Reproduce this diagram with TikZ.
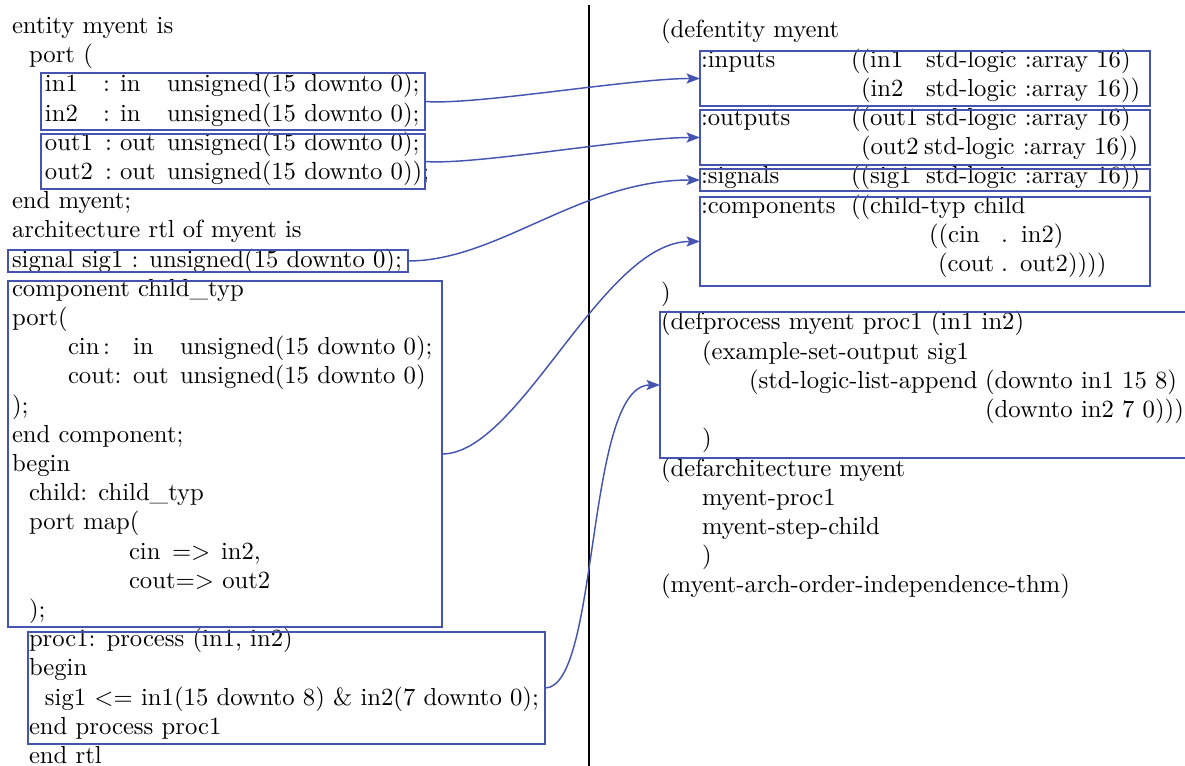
\documentclass[tikz,border=0pt]{standalone}
\usetikzlibrary{arrows.meta,fit}
\definecolor{linkblue}{RGB}{68,84,176}
\begin{document}
\begin{tikzpicture}[x=0.4132pt,y=-0.4132pt,
  txt/.style={anchor=base west,inner sep=0pt,outer sep=0pt,font=\fontsize{10.2}{12}\selectfont},
  codebox/.style={draw=linkblue,line width=0.6pt,inner sep=0pt,outer sep=0pt},
  link/.style={draw=linkblue,line width=0.6pt,-{Stealth[length=5.6pt,width=4.2pt,inset=1.2pt]}},
  divider/.style={line width=1.15pt,black}]
\clip (0,0) rectangle (1185,766);

% ---------- VHDL source (left column) ----------
\node[txt] (l0) at (12,33.5) {entity myent is};
\node[txt] (l1) at (29,62.7) {port (};
\node[txt] (l2a) at (45,91.9) {in1};
\node[txt] (l2b) at (103,91.9) {:};
\node[txt] (l2c) at (120,91.9) {in};
\node[txt] (l2d) at (167,91.9) {unsigned(15 downto 0);};
\node[txt] (l3a) at (45,121.1) {in2};
\node[txt] (l3b) at (103,121.1) {:};
\node[txt] (l3c) at (120,121.1) {in};
\node[txt] (l3d) at (167,121.1) {unsigned(15 downto 0);};
\node[txt] (l4a) at (45,150.3) {out1};
\node[txt] (l4b) at (105,150.3) {:};
\node[txt] (l4c) at (120,150.3) {out};
\node[txt] (l4d) at (167,150.3) {unsigned(15 downto 0);};
\node[txt] (l5a) at (45,179.5) {out2};
\node[txt] (l5b) at (105,179.5) {:};
\node[txt] (l5c) at (120,179.5) {out};
\node[txt] (l5d) at (167,179.5) {unsigned(15 downto 0));};
\node[txt] (l6) at (12,208.7) {end myent;};
\node[txt] (l7) at (12,237.9) {architecture rtl of myent is};
\node[txt] (l8) at (12,267.1) {signal sig1 : unsigned(15 downto 0);};
\node[txt] (l9) at (12,296.3) {component child\_typ};
\node[txt] (l10) at (12,325.5) {port(};
\node[txt] (l11a) at (68,354.7) {cin};
\node[txt] (l11b) at (103,354.7) {:};
\node[txt] (l11c) at (133,354.7) {in};
\node[txt] (l11d) at (180,354.7) {unsigned(15 downto 0);};
\node[txt] (l12a) at (68,383.9) {cout:};
\node[txt] (l12c) at (133,383.9) {out};
\node[txt] (l12d) at (180,383.9) {unsigned(15 downto 0)};
\node[txt] (l13) at (12,413.1) {);};
\node[txt] (l14) at (12,442.3) {end component;};
\node[txt] (l15) at (12,471.5) {begin};
\node[txt] (l16) at (29,500.7) {child: child\_typ};
\node[txt] (l17) at (29,529.9) {port map(};
\node[txt] (l18a) at (129,559.1) {cin};
\node[txt] (l18b) at (172,559.1) {=>};
\node[txt] (l18c) at (221,559.1) {in2,};
\node[txt] (l19) at (129,588.3) {cout=> out2};
\node[txt] (l20) at (29,617.5) {);};
\node[txt] (l21) at (29,646.7) {proc1: process (in1, in2)};
\node[txt] (l22) at (29,675.9) {begin};
\node[txt] (l23) at (45,705.1) {sig1 <= in1(15 downto 8) \& in2(7 downto 0);};
\node[txt] (l24) at (29,734.3) {end process proc1};
\node[txt] (l25) at (29,763.5) {end rtl};

% boxes around the VHDL fragments
\node[codebox,fit={(41,73) (425,130)}] (inbox) {};
\node[codebox,fit={(41,134) (425,189)}] (outbox) {};
\node[codebox,fit={(8,250) (408,272)}] (sigbox) {};
\node[codebox,fit={(8,281) (442,627)}] (compbox) {};
\node[codebox,fit={(28,632) (545,744)}] (procbox) {};

% ---------- ACL2 translation (right column) ----------
\node[txt] (r0) at (661,38) {(defentity myent};
\node[txt] (r1a) at (701,67.2) {:inputs};
\node[txt] (r1b) at (851,67.2) {((in1};
\node[txt] (r1c) at (926,67.2) {std-logic :array 16)};
\node[txt] (r2b) at (861,96.4) {(in2};
\node[txt] (r2c) at (926,96.4) {std-logic :array 16))};
\node[txt] (r3a) at (701,125.6) {:outputs};
\node[txt] (r3b) at (851,125.6) {((out1};
\node[txt] (r3c) at (926,125.6) {std-logic :array 16)};
\node[txt] (r4b) at (861,154.8) {(out2};
\node[txt] (r4c) at (924,154.8) {std-logic :array 16))};
\node[txt] (r5a) at (701,184) {:signals};
\node[txt] (r5b) at (851,184) {((sig1};
\node[txt] (r5c) at (926,184) {std-logic :array 16))};
\node[txt] (r6a) at (701,213.2) {:components};
\node[txt] (r6b) at (851,213.2) {((child-typ child};
\node[txt] (r7a) at (929,242.4) {((cin};
\node[txt] (r7b) at (1001,242.4) {.};
\node[txt] (r7c) at (1021,242.4) {in2)};
\node[txt] (r8a) at (938,271.6) {(cout};
\node[txt] (r8b) at (1001,271.6) {.};
\node[txt] (r8c) at (1020,271.6) {out2))))};
\node[txt] (r9) at (661,300.8) {)};
\node[txt] (r10) at (661,330) {(defprocess myent proc1 (in1 in2)};
\node[txt] (r11) at (702,359.2) {(example-set-output sig1};
\node[txt] (r12a) at (749,388.4) {(std-logic-list-append};
\node[txt] (r12b) at (985,388.4) {(downto in1 15 8)};
\node[txt] (r13) at (985,417.6) {(downto in2 7 0)))};
\node[txt] (r14) at (702,446.8) {)};
\node[txt] (r15) at (661,476) {(defarchitecture myent};
\node[txt] (r16) at (702,505.2) {myent-proc1};
\node[txt] (r17) at (702,534.4) {myent-step-child};
\node[txt] (r18) at (702,563.6) {)};
\node[txt] (r19) at (661,592.8) {(myent-arch-order-independence-thm)};

\node[codebox,fit={(700,51) (1150,106)}] (inputs) {};
\node[codebox,fit={(700,110) (1150,165)}] (outputs) {};
\node[codebox,fit={(700,169) (1150,191)}] (signals) {};
\node[codebox,fit={(700,197) (1150,286)}] (components) {};
\node[codebox,fit={(660,312) (1200,458)}] (defproc) {};

% dividing rule
\coordinate (dtop) at (589,5);
\coordinate (dbot) at (589,770);
\draw[divider] (dtop) -- (dbot);

% correspondences
\draw[link] (inbox.east) .. controls +(50,4) and +(-70,0) .. (inputs.west);
\draw[link] (outbox.east) .. controls +(50,4) and +(-70,0) .. (outputs.west);
\draw[link] (sigbox.east) .. controls +(90,0) and +(-120,0) .. (signals.west);
\draw[link] (compbox.east) .. controls +(78,0) and +(-98,0) .. (components.west);
\draw[link] (procbox.east) .. controls +(55,0) and +(-75,0) .. (defproc.west);
\end{tikzpicture}
\end{document}
